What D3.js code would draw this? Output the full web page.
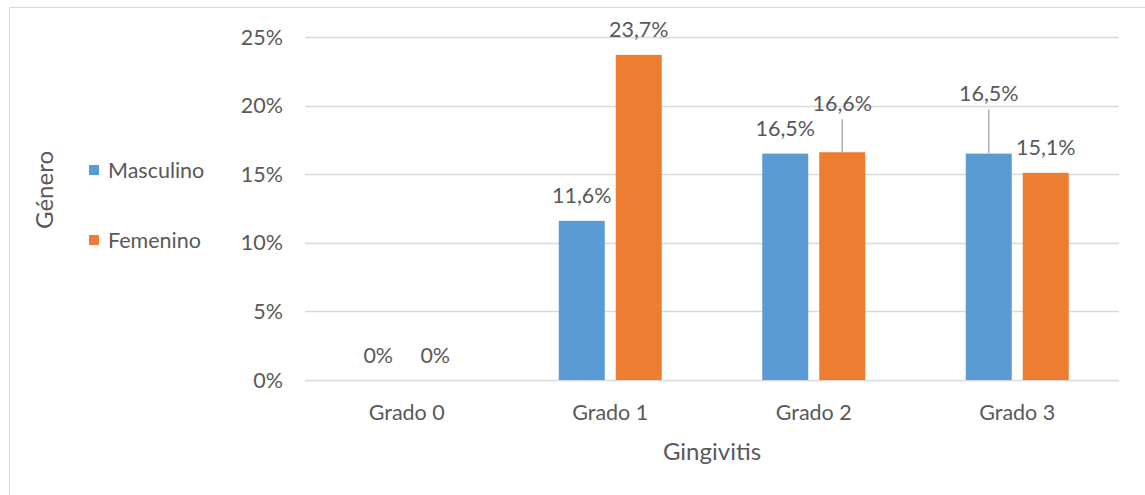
<!DOCTYPE html>
<html><head><meta charset="utf-8">
<script src="https://cdn.jsdelivr.net/npm/d3@7"></script>
<style>body{margin:0;background:#fff}svg{display:block}</style>
</head><body>
<svg id="c" width="1145" height="495"></svg>
<script>
const categories = ["Grado 0", "Grado 1", "Grado 2", "Grado 3"];
const seriesNames = ["Masculino", "Femenino"];
const masculino = [0, 11.6, 16.5, 16.5];
const femenino = [0, 23.7, 16.6, 15.1];
const yTicks = [0, 5, 10, 15, 20, 25];
const colors = ["#5b9bd5", "#ed7d31"];
// label offsets (in px) for labels lifted with leader lines: [series][category]
const labelLift = [[0, 0, 0, 35], [0, 0, 24, 0]];

const svg = d3.select("#c");
const font = "Lato, 'Open Sans', sans-serif";
const txt = "#595959";
const fs = "21.5px";

svg.append("rect").attr("x", 9.5).attr("y", 7.5).attr("width", 1200).attr("height", 600)
  .attr("fill", "none").attr("stroke", "#d9d9d9");

const pLeft = 305, pRight = 1119, pTop = 37, pBottom = 380;
const x = d3.scaleBand().domain(categories).range([pLeft, pRight]);
const y = d3.scaleLinear().domain([0, 25]).range([pBottom, pTop]);

const g = svg.append("g");
// gridlines
g.selectAll("line.grid").data(yTicks).join("line")
  .attr("x1", pLeft).attr("x2", pRight)
  .attr("y1", d => Math.round(y(d)) + 0.5).attr("y2", d => Math.round(y(d)) + 0.5)
  .attr("stroke", "#d9d9d9").attr("stroke-width", 1.3);

// y tick labels
g.selectAll("text.yt").data(yTicks).join("text")
  .attr("x", 283).attr("y", d => y(d)).attr("dy", "0.35em")
  .attr("text-anchor", "end").attr("fill", txt)
  .style("font-family", font).style("font-size", fs)
  .text(d => d + "%");

// x category labels
g.selectAll("text.xt").data(categories).join("text")
  .attr("x", d => x(d) + x.bandwidth() / 2).attr("y", 412).attr("dy", "0.35em")
  .attr("text-anchor", "middle").attr("fill", txt)
  .style("font-family", font).style("font-size", fs)
  .text(d => d);

const barW = 46, gap = 11;
const series = [masculino, femenino];
const fmt = v => (v === 0 ? "0" : d3.format(".1f")(v).replace(".", ",")) + "%";

series.forEach((vals, si) => {
  const offset = si === 0 ? -(gap / 2 + barW) : gap / 2;
  const cx = c => x(c) + x.bandwidth() / 2 + offset;
  g.selectAll("rect.s" + si).data(categories).join("rect")
    .attr("x", c => cx(c)).attr("width", barW)
    .attr("y", (c, i) => y(vals[i])).attr("height", (c, i) => y(0) - y(vals[i]))
    .attr("fill", colors[si]);
  categories.forEach((c, i) => {
    const lift = labelLift[si][i];
    const lx = cx(c) + barW / 2;
    const ly = y(vals[i]) - 25 - lift;
    if (lift > 0) {
      g.append("line").attr("x1", lx).attr("x2", lx)
        .attr("y1", ly + 16).attr("y2", y(vals[i]))
        .attr("stroke", "#a6a6a6").attr("stroke-width", 1.3);
    }
    g.append("text").attr("x", lx).attr("y", ly).attr("dy", "0.35em")
      .attr("text-anchor", "middle").attr("fill", txt)
      .style("font-family", font).style("font-size", fs)
      .text(fmt(vals[i]));
  });
});

// axis titles
svg.append("text").attr("x", (pLeft + pRight) / 2).attr("y", 452).attr("dy", "0.35em")
  .attr("text-anchor", "middle").attr("fill", txt)
  .style("font-family", font).style("font-size", "24px").text("Gingivitis");
svg.append("text").attr("transform", "translate(45,190) rotate(-90)").attr("dy", "0.35em")
  .attr("text-anchor", "middle").attr("fill", txt)
  .style("font-family", font).style("font-size", "24px").text("Género");

// legend
const legY = [170, 240];
seriesNames.forEach((n, i) => {
  svg.append("rect").attr("x", 89).attr("y", legY[i] - 5).attr("width", 10).attr("height", 10).attr("fill", colors[i]);
  svg.append("text").attr("x", 108).attr("y", legY[i]).attr("dy", "0.35em").attr("fill", txt)
    .style("font-family", font).style("font-size", fs).text(n);
});
</script>
</body></html>
